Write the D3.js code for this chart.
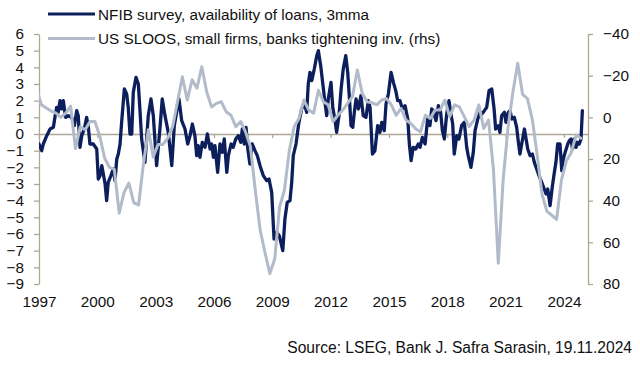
<!DOCTYPE html>
<html><head><meta charset="utf-8">
<script src="https://cdn.jsdelivr.net/npm/d3@7"></script>
<style>
body{margin:0;background:#fff}
svg{display:block}
text{font-family:"Liberation Sans",Arial,sans-serif;fill:#111}
</style>
</head><body>
<svg id="chart" width="640" height="367"></svg>
<script>
// ---- data ----
const nfibDates = [1997.00,1997.14,1997.22,1997.40,1997.57,1997.74,1997.82,1997.91,1997.99,1998.08,1998.17,1998.25,1998.37,1998.51,1998.68,1998.82,1998.94,1999.02,1999.11,1999.20,1999.33,1999.45,1999.54,1999.62,1999.79,1999.97,2000.05,2000.14,2000.23,2000.31,2000.40,2000.48,2000.56,2000.70,2000.82,2000.91,2001.00,2001.08,2001.17,2001.25,2001.39,2001.51,2001.59,2001.68,2001.77,2001.85,2001.99,2002.11,2002.20,2002.28,2002.45,2002.62,2002.76,2002.88,2003.05,2003.22,2003.34,2003.48,2003.65,2003.83,2003.96,2004.08,2004.20,2004.34,2004.51,2004.65,2004.77,2004.89,2005.02,2005.11,2005.19,2005.28,2005.40,2005.54,2005.66,2005.80,2005.88,2005.97,2006.05,2006.19,2006.31,2006.43,2006.53,2006.66,2006.74,2006.88,2006.99,2007.12,2007.25,2007.38,2007.46,2007.56,2007.65,2007.74,2007.85,2007.97,2008.11,2008.23,2008.37,2008.54,2008.71,2008.83,2008.97,2009.09,2009.23,2009.36,2009.54,2009.65,2009.77,2009.91,2010.00,2010.08,2010.22,2010.37,2010.51,2010.65,2010.77,2010.85,2010.94,2011.03,2011.16,2011.29,2011.37,2011.49,2011.59,2011.71,2011.80,2011.88,2012.02,2012.11,2012.23,2012.31,2012.43,2012.54,2012.65,2012.78,2012.88,2012.96,2013.05,2013.14,2013.22,2013.31,2013.43,2013.56,2013.68,2013.82,2013.94,2014.03,2014.15,2014.28,2014.42,2014.54,2014.63,2014.76,2014.85,2014.97,2015.11,2015.23,2015.35,2015.45,2015.57,2015.69,2015.83,2015.97,2016.05,2016.14,2016.25,2016.38,2016.51,2016.60,2016.72,2016.86,2016.99,2017.11,2017.20,2017.28,2017.42,2017.54,2017.66,2017.75,2017.85,2017.97,2018.09,2018.19,2018.28,2018.36,2018.49,2018.60,2018.74,2018.88,2019.00,2019.08,2019.22,2019.34,2019.43,2019.57,2019.69,2019.78,2019.91,2020.03,2020.15,2020.29,2020.41,2020.49,2020.63,2020.71,2020.80,2020.94,2021.02,2021.14,2021.23,2021.32,2021.45,2021.57,2021.66,2021.74,2021.83,2021.97,2022.04,2022.14,2022.26,2022.38,2022.48,2022.60,2022.72,2022.86,2022.99,2023.08,2023.17,2023.29,2023.40,2023.51,2023.59,2023.68,2023.80,2023.89,2023.97,2024.09,2024.20,2024.28,2024.37,2024.44,2024.54,2024.62,2024.71,2024.79,2024.88,2024.95];
const nfibValues = [-0.6,-1.0,-0.6,-0.1,0.3,0.4,1.0,1.6,1.3,2.0,1.5,2.0,1.0,1.1,1.0,0.5,1.4,1.1,-0.8,-0.1,0.3,1.0,0.4,-0.6,-0.6,-0.9,-2.7,-2.5,-1.9,-2.4,-3.0,-4.0,-2.9,-2.5,-2.1,-2.8,-1.5,-1.2,-0.6,0.7,2.7,2.4,1.6,0.0,0.0,2.5,3.4,3.0,1.3,-0.3,-1.7,1.1,2.1,1.1,-1.9,0.3,2.1,1.1,0.1,-1.9,0.5,1.3,2.1,0.8,0.3,-0.6,-0.1,0.6,-0.1,-1.3,-0.7,-1.4,-0.5,-0.8,0.0,-0.9,-0.6,-1.4,-0.7,-2.3,-0.6,-1.1,-0.3,-2.3,-1.3,-0.6,-0.8,-0.3,-0.1,-0.5,0.3,-0.6,0.4,-0.9,-1.8,-0.6,-1.0,-1.3,-1.9,-2.5,-2.8,-2.7,-3.5,-6.3,-5.9,-6.1,-7.0,-5.1,-4.1,-4.0,-2.9,-1.3,-0.6,0.7,1.5,1.8,1.3,3.0,3.7,3.2,3.9,4.7,5.0,4.1,3.1,1.9,1.1,2.1,3.1,1.6,0.8,0.1,1.1,2.7,3.9,4.7,3.7,2.3,0.5,0.4,1.3,2.1,1.5,2.3,1.1,1.0,2.0,1.6,-1.2,-1.0,0.5,0.1,0.7,0.2,1.8,2.4,3.7,3.1,2.6,2.0,2.0,1.5,1.7,0.9,-0.6,-1.6,-0.8,-0.9,-0.6,-0.8,-0.2,-0.6,0.9,0.5,1.5,1.4,0.8,1.7,1.3,0.2,-0.3,1.2,2.0,1.2,0.6,-1.2,-0.1,-0.3,0.5,0.7,-0.8,-1.3,-2.0,-1.1,0.2,0.9,1.3,1.2,1.4,1.6,2.6,2.7,1.5,0.3,0.5,0.1,1.1,1.3,0.7,1.3,1.4,0.9,1.0,0.4,-0.5,-1.2,-0.6,0.3,-0.2,-0.9,-1.3,-1.2,-1.7,-2.1,-2.5,-2.9,-3.3,-3.6,-3.3,-4.3,-3.2,-2.3,-1.7,-0.6,-0.6,-2.2,-1.5,-1.0,-0.6,-0.4,-0.3,-0.9,-0.3,-0.8,-0.5,-0.6,-0.3,1.4];

// quarterly, first value = 1996Q4
const sloosStartYear = 1996.75;
const sloosValues = [-14,-6,-4.5,-3,-2,0,-2,-5.4,15,4.5,6,2,2,9,19.5,24,25,46,36,31.5,41,42,22,6,19,13,13,10,4.5,-7.5,-19.5,-8.3,-18,-14,-24.3,-12.3,-5,-6.7,-7.5,-2.7,-1,4.5,2,7,14,35,54,65,75,68,43,35,16,4.5,0.5,-8.3,-3.5,-2,-13,-7.5,-6,2,-1,-3.5,-6.7,-10,-22.7,-11.5,-7.5,-7,-6,-8.3,-9,-6,-1,-4.3,1.3,3,5.5,7,-1,0.5,-3.5,-3.5,-8.3,-0.3,-6,-5,-0.3,4.5,1.3,-6,5.3,1.3,25,70,30,5,-12,-26,-11,-9,1,18,37,45,47,49,30,21,17,8.5,10];

const leftTicks = [6,5,4,3,2,1,0,-1,-2,-3,-4,-5,-6,-7,-8,-9];
const rightTicks = [-40,-20,0,20,40,60,80];
const yearTicks = [1997,2000,2003,2006,2009,2012,2015,2018,2021,2024];
const seriesNames = ["NFIB survey, availability of loans, 3mma","US SLOOS, small firms, banks tightening inv. (rhs)"];
const sourceText = "Source: LSEG, Bank J. Safra Sarasin, 19.11.2024";

// ---- layout ----
const navy = "#0c1f5c", grey = "#b2bbc9", axisCol = "#aea796";
const plot = {left: 39, right: 588, top: 34, bottom: 284};
const svg = d3.select("#chart");

const x = d3.scaleLinear().domain([1997, 2025.24]).range([plot.left, plot.right]);
const yL = d3.scaleLinear().domain([-9, 6]).range([plot.bottom, plot.top]);
const yR = d3.scaleLinear().domain([80, -40]).range([plot.bottom, plot.top]);

svg.append("clipPath").attr("id","clip").append("rect")
  .attr("x", plot.left).attr("y", plot.top - 10)
  .attr("width", plot.right - plot.left).attr("height", plot.bottom - plot.top + 20);

// left axis
const gL = svg.append("g").attr("transform", `translate(${plot.left},0)`)
  .call(d3.axisLeft(yL).tickValues(leftTicks).tickSizeInner(5).tickSizeOuter(0).tickPadding(10).tickFormat(d3.format("d")));
// right axis
const gR = svg.append("g").attr("transform", `translate(${plot.right},0)`)
  .call(d3.axisRight(yR).tickValues(rightTicks).tickSizeInner(5).tickSizeOuter(0).tickPadding(10).tickFormat(d3.format("d")));
[gL, gR].forEach(g => {
  g.select(".domain").attr("stroke", axisCol).attr("stroke-width", 1.3);
  g.selectAll(".tick line").attr("stroke", axisCol).attr("stroke-width", 1.3);
  g.selectAll(".tick text").attr("font-size", 15.3).attr("font-family", '"Liberation Sans",Arial,sans-serif').attr("fill", "#111");
});

// zero line with year ticks
const gX = svg.append("g").attr("transform", `translate(0,${yL(0)})`)
  .call(d3.axisBottom(x).tickValues(yearTicks).tickSizeInner(4).tickSizeOuter(0).tickFormat(""));
gX.select(".domain").attr("stroke", axisCol).attr("stroke-width", 1.3);
gX.selectAll(".tick line").attr("stroke", axisCol).attr("stroke-width", 1.3);

// year labels at bottom
const gXL = svg.append("g").attr("transform", `translate(0,${plot.bottom + 4})`)
  .call(d3.axisBottom(x).tickValues(yearTicks).tickSize(0).tickPadding(8).tickFormat(d3.format("d")));
gXL.select(".domain").remove();
gXL.selectAll(".tick text").attr("font-size", 15.3).attr("font-family", '"Liberation Sans",Arial,sans-serif').attr("fill", "#111");

// series
const nfib = nfibDates.map((d, i) => ({t: d, v: nfibValues[i]}));
const sloos = sloosValues.map((v, i) => ({t: sloosStartYear + (i + 0.5) * 0.25, v}));

const plotG = svg.append("g").attr("clip-path", "url(#clip)");
plotG.append("path").datum(nfib)
  .attr("fill", "none").attr("stroke", navy).attr("stroke-width", 3.3)
  .attr("stroke-linejoin", "round").attr("stroke-linecap", "round")
  .attr("d", d3.line().x(d => x(d.t)).y(d => yL(d.v)));
plotG.append("path").datum(sloos)
  .attr("fill", "none").attr("stroke", grey).attr("stroke-width", 3)
  .attr("stroke-linejoin", "round").attr("stroke-linecap", "round")
  .attr("d", d3.line().x(d => x(d.t)).y(d => yR(d.v)));

// legend
const legend = svg.append("g");
const legendColors = [navy, grey];
const legendY = [14, 38.5];
seriesNames.forEach((name, i) => {
  legend.append("line").attr("x1", 48).attr("x2", 95).attr("y1", legendY[i]).attr("y2", legendY[i])
    .attr("stroke", legendColors[i]).attr("stroke-width", 3.2);
  legend.append("text").attr("x", 98).attr("y", legendY[i]).attr("dy", "0.36em")
    .attr("font-size", 15.3).text(name);
});

// source
svg.append("text").attr("x", 632).attr("y", 347).attr("dy", "0.36em")
  .attr("text-anchor", "end").attr("font-size", 15.6).text(sourceText);
</script>
</body></html>
